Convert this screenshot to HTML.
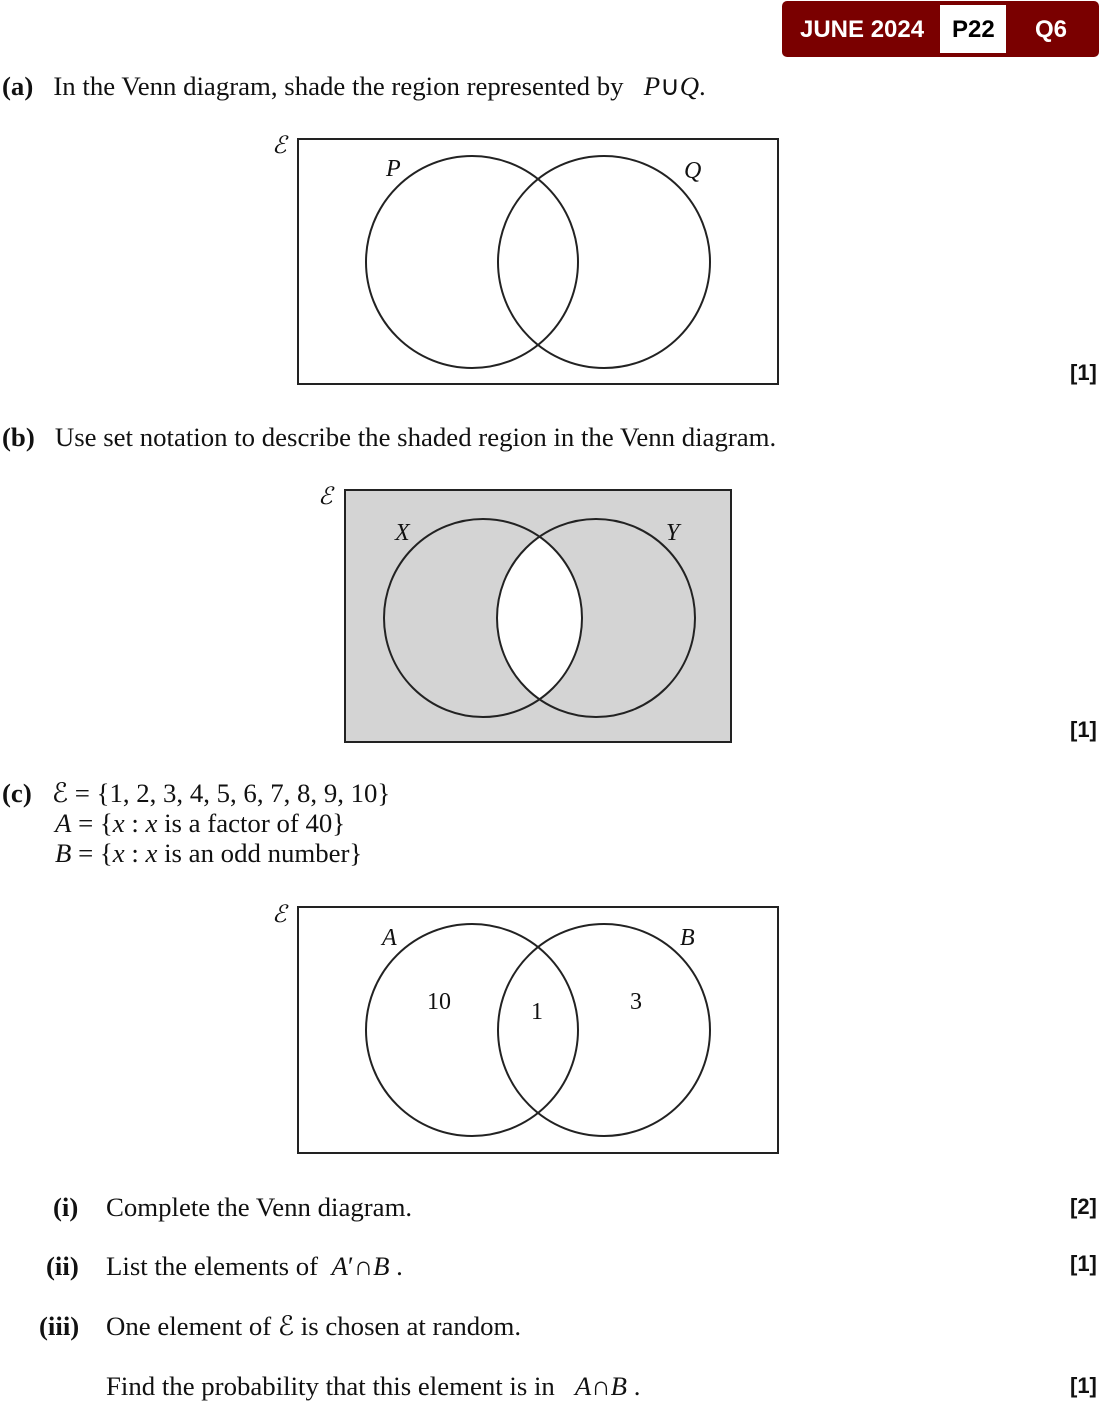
<!DOCTYPE html>
<html><head><meta charset="utf-8"><style>
body{margin:0;width:1100px;height:1401px;background:#fff;position:relative;overflow:hidden;font-family:"Liberation Serif",serif;color:#111}
.t{position:absolute;font-size:26.8px;line-height:30px;white-space:nowrap}
.m{position:absolute;font-family:"Liberation Sans",sans-serif;font-weight:bold;font-size:22px;line-height:30px}
i{font-style:italic}
</style></head><body>
<div style="position:absolute;left:782px;top:1px;width:317px;height:56px;background:#7a0000;border-radius:5px"></div>
<div style="position:absolute;left:940px;top:5px;width:66px;height:48px;background:#fff"></div>
<div class="m" style="left:800px;top:15px;color:#fff;font-size:24px">JUNE 2024</div>
<div class="m" style="left:952px;top:15px;color:#000;font-size:24px">P22</div>
<div class="m" style="left:1035px;top:15px;color:#fff;font-size:24px">Q6</div>

<div class="t" style="left:2px;top:71px"><b>(a)</b>&nbsp;&nbsp;&nbsp;In the Venn diagram, shade the region represented by&nbsp;&nbsp;&nbsp;<i>P</i>∪<i>Q</i>.</div>
<div class="t" style="left:2px;top:422px"><b>(b)</b>&nbsp;&nbsp;&nbsp;Use set notation to describe the shaded region in the Venn diagram.</div>
<div class="t" style="left:2px;top:778px"><b>(c)</b>&nbsp;&nbsp;&nbsp;ℰ = {1, 2, 3, 4, 5, 6, 7, 8, 9, 10}</div>
<div class="t" style="left:55px;top:808px"><i>A</i> = {<i>x</i> : <i>x</i> is a factor of 40}</div>
<div class="t" style="left:55px;top:838px"><i>B</i> = {<i>x</i> : <i>x</i> is an odd number}</div>
<div class="t" style="left:53px;top:1192px"><b>(i)</b></div>
<div class="t" style="left:106px;top:1192px">Complete the Venn diagram.</div>
<div class="t" style="left:46px;top:1251px"><b>(ii)</b></div>
<div class="t" style="left:106px;top:1251px">List the elements of&nbsp;&nbsp;<i>A</i>′∩<i>B</i>&nbsp;.</div>
<div class="t" style="left:39px;top:1311px"><b>(iii)</b></div>
<div class="t" style="left:106px;top:1311px">One element of ℰ is chosen at random.</div>
<div class="t" style="left:106px;top:1371px">Find the probability that this element is in&nbsp;&nbsp;&nbsp;<i>A</i>∩<i>B</i>&nbsp;.</div>

<div class="m" style="left:1070px;top:358px">[1]</div>
<div class="m" style="left:1070px;top:715px">[1]</div>
<div class="m" style="left:1070px;top:1192px">[2]</div>
<div class="m" style="left:1070px;top:1249px">[1]</div>
<div class="m" style="left:1070px;top:1371px">[1]</div>

<svg width="1100" height="1401" style="position:absolute;left:0;top:0" font-family="Liberation Serif" font-size="24" font-style="italic" fill="#111">
<g fill="none" stroke="#222" stroke-width="2">
<rect x="298" y="139" width="480" height="245"/>
<circle cx="472" cy="262" r="106"/><circle cx="604" cy="262" r="106"/>
</g>
<text x="272" y="153">ℰ</text><text x="386" y="176">P</text><text x="684" y="178">Q</text>

<defs><clipPath id="cx"><circle cx="483" cy="618" r="99"/></clipPath></defs>
<rect x="345" y="490" width="386" height="252" fill="#d4d4d4" stroke="#222" stroke-width="2"/>
<circle cx="596" cy="618" r="99" fill="#fff" clip-path="url(#cx)"/>
<g fill="none" stroke="#222" stroke-width="2">
<circle cx="483" cy="618" r="99"/><circle cx="596" cy="618" r="99"/>
</g>
<text x="318" y="504">ℰ</text><text x="395" y="540">X</text><text x="666" y="540">Y</text>

<g fill="none" stroke="#222" stroke-width="2">
<rect x="298" y="907" width="480" height="246"/>
<circle cx="472" cy="1030" r="106"/><circle cx="604" cy="1030" r="106"/>
</g>
<text x="272" y="922">ℰ</text><text x="382" y="945">A</text><text x="680" y="945">B</text>
<g font-style="normal"><text x="427" y="1009">10</text><text x="531" y="1019">1</text><text x="630" y="1009">3</text></g>
</svg>
</body></html>
